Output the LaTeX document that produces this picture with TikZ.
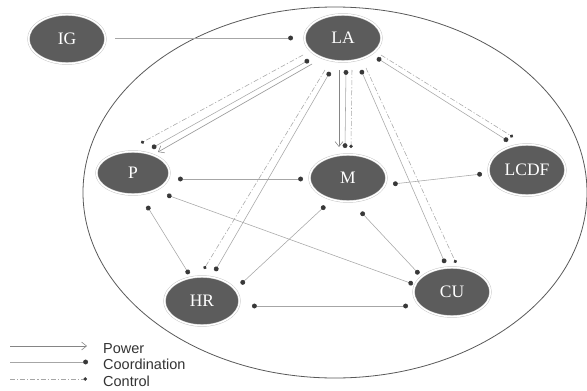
\documentclass[tikz,border=0pt]{standalone}
\usepackage{fontspec}
\setmainfont{Liberation Serif}
\newfontfamily\legendfont{Liberation Sans}
\usetikzlibrary{arrows.meta,calc,shapes.geometric}

\definecolor{nodegray}{HTML}{5C5C5C}
\definecolor{linegray}{HTML}{A6A6A6}
\definecolor{powgray}{HTML}{858585}
\definecolor{dotgray}{HTML}{383838}
\definecolor{rimgray}{HTML}{C4C4C4}

\begin{document}
\begin{tikzpicture}[x=1pt,y=-1pt,
  actor/.style={ellipse, fill=nodegray, draw=rimgray, line width=0.45pt,
    double=white, double distance=1.5pt, inner sep=0pt, text=white,
    font=\fontsize{17.5}{17.5}\selectfont},
  coordln/.style={draw=linegray, line width=0.55pt,
    {Circle[length=4.8pt,color=dotgray]}-{Circle[length=4.8pt,color=dotgray]}},
  coordin/.style={draw=linegray, line width=0.55pt,
    -{Circle[length=4.8pt,color=dotgray]}},
  ctrlln/.style={draw=linegray, line width=0.55pt,
    dash pattern=on 5pt off 2pt on 1.2pt off 2pt,
    -{Circle[length=3.4pt,color=dotgray]}},
  powerln/.style={draw=powgray, line width=0.55pt,
    -{Straight Barb[length=5pt,width=8pt,line width=0.55pt]}},
  legtext/.style={anchor=west, inner sep=0pt, text=black!80,
    font=\legendfont\fontsize{14.5}{15}\selectfont},
]
\fill[white] (0,0) rectangle (587,391);
\useasboundingbox (0,0) rectangle (587,391);

% outer boundary of the system
\draw[black!65, line width=0.8pt] (335,192.5) ellipse [x radius=252, y radius=185.5];

% actors
\node[actor, minimum width=77pt, minimum height=49pt] (IG)   at (67,39)   {IG};
\node[actor, minimum width=77pt, minimum height=47pt] (LA)   at (343,38)  {LA};
\node[actor, minimum width=73pt, minimum height=43pt] (P)    at (133,173) {P};
\node[actor, minimum width=77pt, minimum height=47pt] (M)    at (348,178) {M};
\node[actor, minimum width=77pt, minimum height=51pt] (LCDF) at (527,170) {LCDF};
\node[actor, minimum width=75pt, minimum height=49pt] (HR)   at (202,301) {HR};
\node[actor, minimum width=77pt, minimum height=49pt] (CU)   at (452,292) {CU};

% IG -> LA
\draw[coordin] ($(IG)+(48,-1)$) -- ($(LA)+(-50,0)$);

% LA -> P
\draw[ctrlln]  ($(LA)+(-40,17)$) -- ($(P)+(8,-30)$);
\draw[coordln] ($(LA)+(-34,22)$) -- ($(P)+(19,-25)$);
\draw[powerln] ($(LA)+(-31,26)$) -- ($(P)+(25,-21)$);

% LA -> HR
\draw[ctrlln]  ($(LA)+(-18,32)$) -- ($(HR)+(2,-32)$);
\draw[coordln] ($(LA)+(-13,34)$) -- ($(HR)+(13,-30)$);

% LA -> M
\draw[powerln] ($(LA)+(-4,32)$) -- ($(M)+(-9,-31)$);
\draw[coordln] ($(LA)+(3,32)$)  -- ($(M)+(-3,-30)$);
\draw[ctrlln]  ($(LA)+(9,32)$)  -- ($(M)+(3,-30)$);

% LA -> CU
\draw[coordln] ($(LA)+(18,32)$) -- ($(CU)+(-7,-29)$);
\draw[ctrlln]  ($(LA)+(23,30)$) -- ($(CU)+(4,-29)$);

% LA -> LCDF
\draw[coordln] ($(LA)+(34,20)$) -- ($(LCDF)+(-19,-29)$);
\draw[ctrlln]  ($(LA)+(38,17)$) -- ($(LCDF)+(-14,-33)$);

% coordination among the other actors
\draw[coordln] ($(P)+(45,6)$)    -- ($(M)+(-45,1)$);
\draw[coordln] ($(P)+(34,22)$)   -- ($(CU)+(-39,-8)$);
\draw[coordln] ($(P)+(14,33)$)   -- ($(HR)+(-13,-27)$);
\draw[coordln] ($(HR)+(39,-17)$) -- ($(M)+(-23,28)$);
\draw[coordln] ($(HR)+(50,5)$)   -- ($(CU)+(-44,14)$);
\draw[coordln] ($(M)+(13,34)$)   -- ($(CU)+(-33,-18)$);
\draw[coordln] ($(LCDF)+(-45,4)$) -- ($(M)+(45,6)$);

% legend
\node[legtext] (lpow)  at (103,349) {Power};
\node[legtext] (lcoo)  at (103,364) {Coordination};
\node[legtext] (lctl)  at (103,381) {Control};
\coordinate (lpowa) at (10,346); \coordinate (lpowb) at (87,346);
\coordinate (lcooa) at (10,362); \coordinate (lcoob) at (88,362);
\coordinate (lctla) at (10,379); \coordinate (lctlb) at (87,379);
\draw[powerln] (lpowa) -- (lpowb);
\draw[coordin] (lcooa) -- (lcoob);
\draw[ctrlln]  (lctla) -- (lctlb);
\end{tikzpicture}
\end{document}
